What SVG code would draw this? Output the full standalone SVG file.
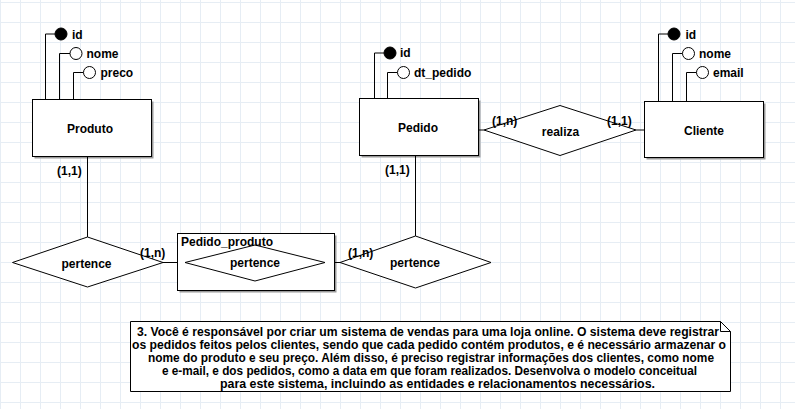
<svg xmlns="http://www.w3.org/2000/svg" width="795" height="409" viewBox="0 0 795 409">
<style>
text{font-family:"Liberation Sans",Arial,sans-serif;font-weight:bold;font-size:12px;fill:#000}
.mid{text-anchor:middle}
.ent{fill:#fff;stroke:#000;stroke-width:1}
.sh{fill:#9a9a9a;stroke:none}
.rel{fill:#fff;stroke:#000;stroke-width:1}
.ln{fill:none;stroke:#000;stroke-width:1}
.pk{fill:#000;stroke:#000;stroke-width:1}
.at{fill:#fff;stroke:#000;stroke-width:1}
.note{fill:#fff;stroke:#000;stroke-width:1}
</style>
<defs>
<pattern id="grid" x="0" y="2" width="20" height="20" patternUnits="userSpaceOnUse">
<path d="M0.5 0V20M0 0.5H20" fill="none" stroke="#e6edf4" stroke-width="1"/>
</pattern>
</defs>
<rect width="795" height="409" fill="#fff"/>
<rect width="795" height="409" fill="url(#grid)"/>

<g id="produto">
<path class="ln" d="M45.5 99V34H55M59.5 99V53.5H70M73.5 99V72.5H83.5"/>
<circle class="pk" cx="61" cy="34" r="6"/>
<circle class="at" cx="76" cy="53.5" r="6"/>
<circle class="at" cx="89.5" cy="72.5" r="6"/>
<text x="72" y="38.5">id</text>
<text x="86.5" y="57.5">nome</text>
<text x="100.5" y="76.5">preco</text>
<rect class="sh" x="34.5" y="101.5" width="119" height="57"/>
<rect class="ent" x="32.5" y="99.5" width="119" height="57"/>
<text class="mid" x="90" y="132.5">Produto</text>
</g>

<g id="pedido">
<path class="ln" d="M374.5 98V53H384M387.5 98V72.5H397.5"/>
<circle class="pk" cx="390" cy="53" r="6"/>
<circle class="at" cx="403.5" cy="72.5" r="6"/>
<text x="400" y="57">id</text>
<text x="414" y="76.5">dt_pedido</text>
<rect class="sh" x="361.5" y="100.5" width="119" height="57"/>
<rect class="ent" x="359.5" y="98.5" width="119" height="57"/>
<text class="mid" x="418" y="132">Pedido</text>
</g>

<g id="cliente">
<path class="ln" d="M658.5 101V34H668M672.5 101V53.5H682.5M686.5 101V72.5H696.5"/>
<circle class="pk" cx="674" cy="34" r="6"/>
<circle class="at" cx="688.5" cy="53.5" r="6"/>
<circle class="at" cx="702.5" cy="72.5" r="6"/>
<text x="685.5" y="38.5">id</text>
<text x="699" y="57.5">nome</text>
<text x="713" y="76.5">email</text>
<rect class="sh" x="646.5" y="103.5" width="119" height="56"/>
<rect class="ent" x="644.5" y="101.5" width="119" height="56"/>
<text class="mid" x="704" y="134.5">Cliente</text>
</g>

<g id="realiza">
<polygon class="rel" points="484,130 560,105.5 636,130 560,155.5"/>
<text class="mid" x="560.5" y="136">realiza</text>
</g>

<g id="pertence-produto">
<polygon class="rel" points="12.5,262.5 87.5,237 163,262.5 87.5,287"/>
<text class="mid" x="86.5" y="267.5">pertence</text>
</g>

<g id="pedido-produto">
<rect class="sh" x="179.5" y="235.5" width="157" height="57"/>
<rect class="ent" x="177.5" y="233.5" width="157" height="57"/>
<polygon class="rel" points="185,262.5 255,245 325,262.5 255,281"/>
<text x="181" y="246">Pedido_produto</text>
<text class="mid" x="255" y="267">pertence</text>
</g>

<g id="pertence-pedido">
<polygon class="rel" points="340,262.5 415.5,236 491,262.5 415.5,288"/>
<text class="mid" x="415" y="267">pertence</text>
</g>

<g id="connectors">
<path class="ln" d="M87.5 156V237"/>
<path class="ln" d="M163 262.5H177.5"/>
<path class="ln" d="M334.5 262.5H340"/>
<path class="ln" d="M415.5 155.5V236"/>
<path class="ln" d="M479 130H484"/>
<path class="ln" d="M636 130H644.5"/>
<text x="57" y="175">(1,1)</text>
<text x="140" y="257">(1,n)</text>
<text x="348" y="257">(1,n)</text>
<text x="385" y="174">(1,1)</text>
<text x="492" y="125">(1,n)</text>
<text x="607" y="125">(1,1)</text>
</g>

<g id="nota">
<path class="note" d="M130.5 321.5H720.5L730.5 331.5V391.5H130.5Z"/>
<path class="ln" d="M720.5 321.5V331.5H730.5"/>
<text class="mid" x="428" y="335.5" textLength="582" lengthAdjust="spacingAndGlyphs">3. Você é responsável por criar um sistema de vendas para uma loja online. O sistema deve registrar</text>
<text class="mid" x="429" y="348.5" textLength="594" lengthAdjust="spacingAndGlyphs">os pedidos feitos pelos clientes, sendo que cada pedido contém produtos, e é necessário armazenar o</text>
<text class="mid" x="431" y="361.5" textLength="566" lengthAdjust="spacingAndGlyphs">nome do produto e seu preço. Além disso, é preciso registrar informações dos clientes, como nome</text>
<text class="mid" x="429.5" y="374.5" textLength="535" lengthAdjust="spacingAndGlyphs">e e-mail, e dos pedidos, como a data em que foram realizados. Desenvolva o modelo conceitual</text>
<text class="mid" x="437.5" y="387.5" textLength="435" lengthAdjust="spacingAndGlyphs">para este sistema, incluindo as entidades e relacionamentos necessários.</text>
</g>
</svg>
